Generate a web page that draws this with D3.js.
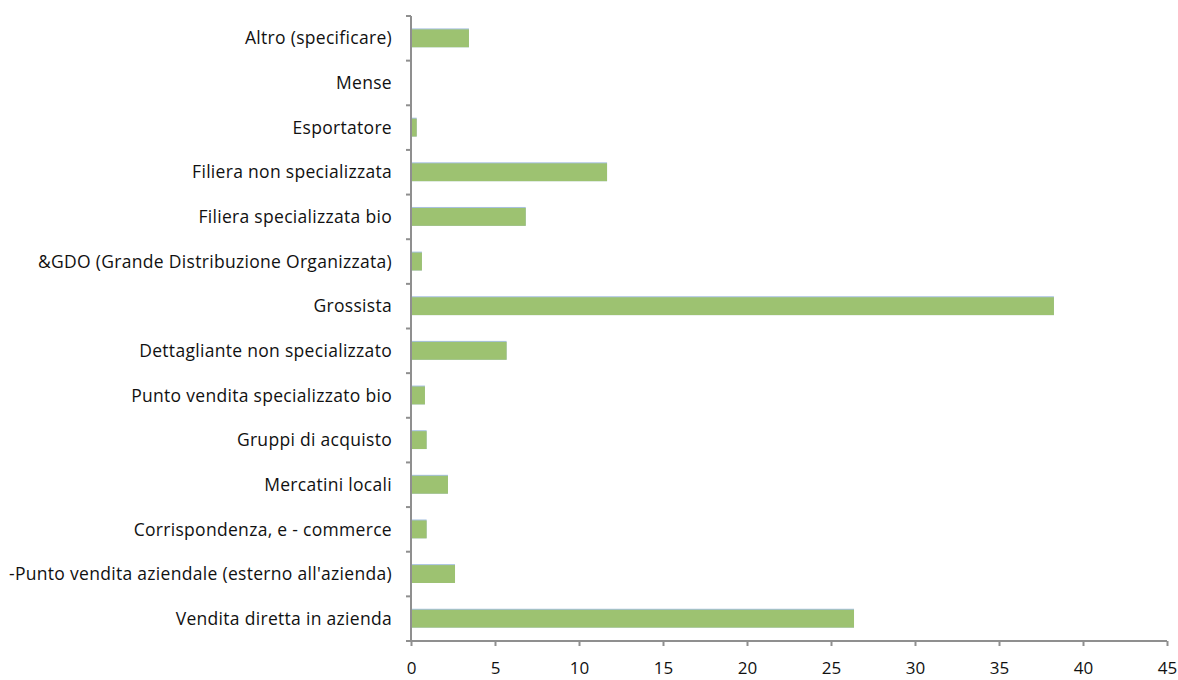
<!DOCTYPE html>
<html>
<head>
<meta charset="utf-8">
<script src="https://cdn.jsdelivr.net/npm/d3@7"></script>
<style>
  html, body { margin: 0; padding: 0; background: #fff; }
  svg text { font-family: "Open Sans", "Noto Sans", sans-serif; fill: #111; }
</style>
</head>
<body>
<svg id="chart" width="1178" height="680"></svg>
<script>
const categories = [
  "Altro (specificare)",
  "Mense",
  "Esportatore",
  "Filiera non specializzata",
  "Filiera specializzata bio",
  "&GDO (Grande Distribuzione Organizzata)",
  "Grossista",
  "Dettagliante non specializzato",
  "Punto vendita specializzato bio",
  "Gruppi di acquisto",
  "Mercatini locali",
  "Corrispondenza, e - commerce",
  "-Punto vendita aziendale (esterno all'azienda)",
  "Vendita diretta in azienda"
];
const values = [3.45, 0, 0.34, 11.67, 6.83, 0.65, 38.27, 5.69, 0.83, 0.93, 2.2, 0.93, 2.62, 26.37];
const xTicks = [0, 5, 10, 15, 20, 25, 30, 35, 40, 45];

(function () {
const svg = d3.select("#chart");
const pLeft = 411, pRight = 1167, pTop = 16, pBottom = 641;
const font = "'Open Sans', 'Noto Sans', sans-serif";

const x = d3.scaleLinear().domain([0, 45]).range([pLeft, pRight]);
const y = d3.scaleBand().domain(categories).range([pTop, pBottom]).paddingInner(0.6).paddingOuter(0.3);

const axisColor = "#8f8f8f";

// bars
const g = svg.append("g");
g.selectAll("rect.edge").data(values).enter().append("rect")
  .attr("class", "edge")
  .attr("x", x(0) + 1)
  .attr("y", (d, i) => y(categories[i]) - 1)
  .attr("width", d => Math.max(0, x(d) - x(0) - 1))
  .attr("height", y.bandwidth() + 1)
  .attr("fill", d => d > 0 ? "#a8c1e0" : "none");
g.selectAll("rect.bar").data(values).enter().append("rect")
  .attr("class", "bar")
  .attr("x", x(0) + 1)
  .attr("y", (d, i) => y(categories[i]))
  .attr("width", d => Math.max(0, x(d) - x(0) - 1))
  .attr("height", y.bandwidth())
  .attr("fill", "#9dc271");

// y axis line + boundary ticks
const boundaries = d3.range(categories.length + 1).map(i => pTop + i * (pBottom - pTop) / categories.length);
svg.append("line").attr("x1", pLeft).attr("x2", pLeft).attr("y1", pTop).attr("y2", pBottom)
  .attr("stroke", axisColor).attr("stroke-width", 2);
svg.selectAll("line.ytick").data(boundaries).enter().append("line")
  .attr("class", "ytick")
  .attr("x1", pLeft - 5).attr("x2", pLeft).attr("y1", d => d).attr("y2", d => d)
  .attr("stroke", axisColor).attr("stroke-width", 2);

// category labels
svg.selectAll("text.cat").data(categories).enter().append("text")
  .attr("class", "cat")
  .attr("x", 392)
  .attr("y", d => y(d) + y.bandwidth() / 2)
  .attr("dy", "0.35em")
  .attr("text-anchor", "end")
  .attr("font-size", 17.5)
  .attr("letter-spacing", 0.3)
  .attr("font-family", font)
  .text(d => d);

// x axis
const xAxis = d3.axisBottom(x).tickValues(xTicks).tickSize(5).tickPadding(16).tickFormat(d3.format("d"));
const xg = svg.append("g").attr("transform", `translate(0,${pBottom})`).call(xAxis);
xg.select(".domain").attr("stroke", axisColor).attr("stroke-width", 2).attr("d", `M${pLeft},0H${pRight}`);
xg.selectAll(".tick line").attr("stroke", axisColor).attr("stroke-width", 2);
xg.selectAll(".tick text").attr("font-size", 17).attr("font-family", font).attr("fill", "#111");
})();
</script>
</body>
</html>
